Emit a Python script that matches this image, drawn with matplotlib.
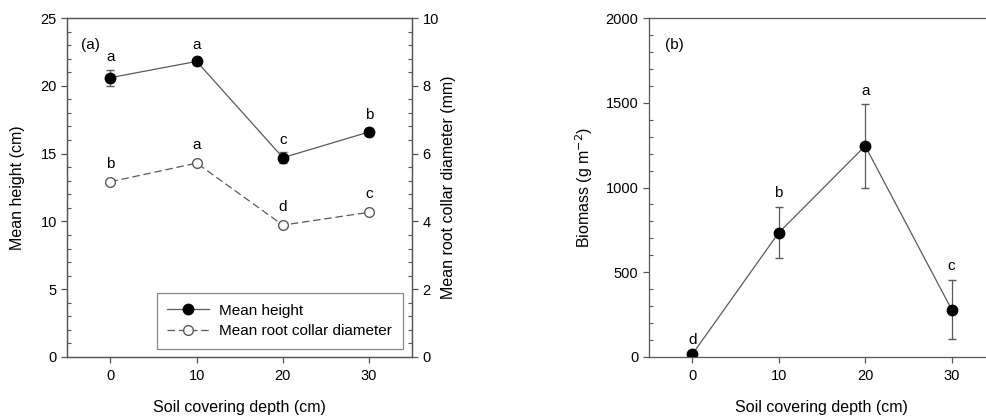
import matplotlib.pyplot as plt
from matplotlib.lines import Line2D
from matplotlib.ticker import MultipleLocator

plt.rcParams['font.family'] = ['Liberation Sans', 'DejaVu Sans']
plt.rcParams['font.size'] = 10.5

# data
depth = [0, 10, 20, 30]
height = [20.6, 21.8, 14.7, 16.6]
height_err = [0.6, 0.3, 0.4, 0.3]
height_lab = ['a', 'a', 'c', 'b']
diam = [5.17, 5.72, 3.89, 4.27]
diam_err = [0.06, 0.05, 0.06, 0.05]
diam_lab = ['b', 'a', 'd', 'c']
biomass = [15, 733, 1245, 280]
biomass_err = [5, 150, 245, 175]
biomass_lab = ['d', 'b', 'a', 'c']

line_c = '#5a5a5a'
spine_c = '#555555'
lab_fs = 11.5
let_fs = 11

fig = plt.figure(figsize=(9.87, 4.17), dpi=100)
ax1 = fig.add_axes([0.0682, 0.1439, 0.3495, 0.8129])
ax2 = ax1.twinx()
ax3 = fig.add_axes([0.6575, 0.1439, 0.3505, 0.8129])


def style(ax):
    for s in ax.spines.values():
        s.set_color(spine_c)
        s.set_linewidth(0.9)
    ax.tick_params(axis='both', which='major', direction='out', length=4,
                   color=spine_c, width=0.9, labelsize=10.5)
    ax.tick_params(axis='x', which='major', pad=5)
    ax.tick_params(axis='y', which='minor', direction='in', length=3,
                   color=spine_c, width=0.8)
    ax.tick_params(axis='x', which='minor', bottom=False)


# panel (a)
ax1.errorbar(depth, height, yerr=height_err, fmt='-o', color=line_c,
             mfc='black', mec='black', ms=7.5, lw=0.9, ecolor=line_c,
             elinewidth=0.9, capsize=3)
ax2.errorbar(depth, diam, yerr=diam_err, fmt='--o', color=line_c,
             mfc='white', mec=line_c, ms=7, lw=0.9, ecolor=line_c,
             elinewidth=0.9, capsize=3, dashes=(6, 3))
for x, y, e, t in zip(depth, height, height_err, height_lab):
    ax1.annotate(t, (x, y + e), xytext=(0, 4), textcoords='offset points',
                 ha='center', va='bottom', fontsize=let_fs)
for x, y, t in zip(depth, diam, diam_lab):
    ax2.annotate(t, (x, y), xytext=(0, 8), textcoords='offset points',
                 ha='center', va='bottom', fontsize=let_fs)

ax1.set_xlim(-5, 35)
ax1.set_ylim(0, 25)
ax2.set_ylim(0, 10)
ax1.set_xticks(depth)
ax1.yaxis.set_major_locator(MultipleLocator(5))
ax1.yaxis.set_minor_locator(MultipleLocator(1))
ax2.yaxis.set_major_locator(MultipleLocator(2))
ax2.yaxis.set_minor_locator(MultipleLocator(0.4))
style(ax1)
style(ax2)
ax1.set_xlabel('Soil covering depth (cm)', fontsize=lab_fs)
ax1.set_ylabel('Mean height (cm)', fontsize=lab_fs)
ax2.set_ylabel('Mean root collar diameter (mm)', fontsize=lab_fs)
ax1.xaxis.set_label_coords(0.5, -0.127)
ax1.yaxis.set_label_coords(-0.123, 0.5)
ax2.yaxis.set_label_coords(1.083, 0.5)
ax1.text(0.04, 0.91, '(a)', transform=ax1.transAxes, fontsize=let_fs)

handles = [
    Line2D([], [], color=line_c, lw=0.9, marker='o', ms=7.5,
           mfc='black', mec='black'),
    Line2D([], [], color=line_c, lw=0.9, ls='--', dashes=(6, 3), marker='o',
           ms=7, mfc='white', mec=line_c),
]
leg = ax1.legend(handles, ['Mean height', 'Mean root collar diameter'],
                 loc='lower right', bbox_to_anchor=(0.973, 0.024),
                 borderaxespad=0, fancybox=False, edgecolor='#888888',
                 framealpha=1, fontsize=11, handlelength=2.7,
                 handletextpad=0.7, borderpad=0.7, labelspacing=0.42)
leg.get_frame().set_linewidth(0.9)

# panel (b)
ax3.errorbar(depth, biomass, yerr=biomass_err, fmt='-o', color=line_c,
             mfc='black', mec='black', ms=7.5, lw=0.9, ecolor=line_c,
             elinewidth=0.9, capsize=3)
for x, y, e, t in zip(depth, biomass, biomass_err, biomass_lab):
    ax3.annotate(t, (x, y + e), xytext=(0, 5), textcoords='offset points',
                 ha='center', va='bottom', fontsize=let_fs)
ax3.set_xlim(-5, 35)
ax3.set_ylim(0, 2000)
ax3.set_xticks(depth)
ax3.yaxis.set_major_locator(MultipleLocator(500))
ax3.yaxis.set_minor_locator(MultipleLocator(100))
style(ax3)
ax3.spines['right'].set_visible(False)
ax3.set_xlabel('Soil covering depth (cm)', fontsize=lab_fs)
ax3.set_ylabel('Biomass (g m$^{-2}$)', fontsize=lab_fs)
ax3.xaxis.set_label_coords(0.5, -0.127)
ax3.yaxis.set_label_coords(-0.157, 0.5)
ax3.text(0.045, 0.91, '(b)', transform=ax3.transAxes, fontsize=let_fs)

fig.savefig('out.png', dpi=100)
